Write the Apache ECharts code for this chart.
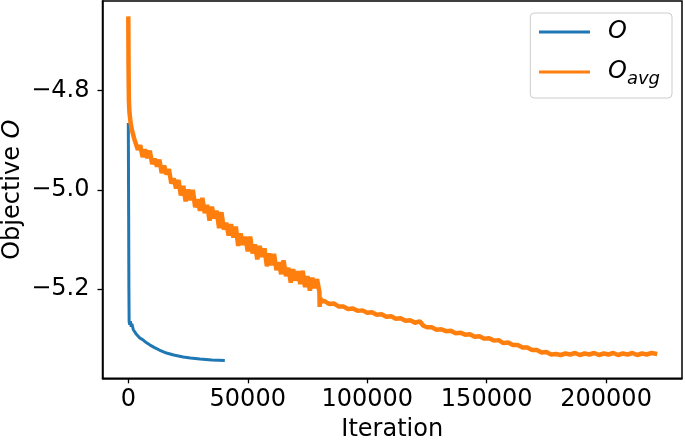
<!DOCTYPE html>
<html>
<head>
<meta charset="utf-8">
<script src="https://cdn.jsdelivr.net/npm/echarts@6/dist/echarts.min.js"></script>
<style>
  html, body { margin: 0; padding: 0; background: #fff; }
  #c1 { width: 685px; height: 440px; }
</style>
</head>
<body>
<div id="c1"></div>
<script>
// iterations in thousands
var objIterK = [0, 0.15, 0.25, 0.35, 0.6, 0.9, 1.2, 1.5, 2.1, 2.6, 3.2, 4, 4.9, 6, 7.5, 9.1, 11, 13, 16, 19, 23, 26, 30, 35, 40.4];
var objVal = [-4.865, -5.05, -5.20, -5.266, -5.272, -5.265, -5.276, -5.270, -5.282, -5.286, -5.290, -5.293, -5.299, -5.302, -5.308, -5.313, -5.318, -5.323, -5.329, -5.333, -5.337, -5.339, -5.341, -5.343, -5.344];

var avgIterK = [0, 0.1, 0.25, 0.5, 1, 1.5, 2, 2.5,
  3, 4, 5, 6, 7, 8, 9, 10, 11, 12, 13, 14, 15, 16, 17, 18, 19, 20,
  21, 22, 23, 24, 25, 26, 27, 28, 29, 30, 31, 32, 33, 34, 35, 36, 37, 38, 39, 40,
  41, 42, 43, 44, 45, 46, 47, 48, 49, 50, 51, 52, 53, 54, 55, 56, 57, 58, 59, 60,
  61, 62, 63, 64, 65, 66, 67, 68, 69, 70, 71, 72, 73, 74, 75, 76, 77, 78, 79, 80,
  80.1, 80.3, 81,
  82, 84, 86, 88, 90, 92, 94, 96, 98, 100, 102, 104, 106, 108, 110, 112, 114, 116, 118, 120, 122,
  123.5, 125, 127, 129, 131, 133, 135, 137, 139, 141, 143, 145, 147, 149, 151, 153, 155, 157, 159,
  161, 163, 165, 167, 169, 171, 173, 175, 177, 179, 181, 183, 185, 187, 189, 191, 193, 195, 197,
  199, 201, 203, 205, 207, 209, 211, 213, 215, 217, 219, 221.4];
var avgVal = [-4.650, -4.75, -4.82, -4.845, -4.866, -4.879, -4.888, -4.897,
  -4.896, -4.919, -4.910, -4.934, -4.918, -4.936, -4.921, -4.948, -4.937, -4.953, -4.939, -4.966, -4.951, -4.969, -4.958, -4.987, -4.977, -4.997,
  -4.980, -5.011, -4.992, -5.023, -4.999, -5.021, -5.000, -5.035, -5.019, -5.042, -5.016, -5.047, -5.030, -5.062, -5.034, -5.058, -5.042, -5.077, -5.045, -5.080,
  -5.066, -5.092, -5.069, -5.096, -5.074, -5.113, -5.088, -5.111, -5.094, -5.124, -5.094, -5.128, -5.110, -5.140, -5.113, -5.135, -5.118, -5.154, -5.128, -5.152,
  -5.129, -5.162, -5.146, -5.170, -5.142, -5.174, -5.157, -5.187, -5.160, -5.183, -5.164, -5.190, -5.163, -5.196, -5.174, -5.203, -5.177, -5.198, -5.180, -5.206,
  -5.236, -5.218, -5.225,
  -5.224, -5.230, -5.229, -5.235, -5.235, -5.240, -5.239, -5.244, -5.243, -5.248, -5.247, -5.252, -5.251, -5.256, -5.255, -5.260, -5.259, -5.264, -5.263, -5.268, -5.265,
  -5.274, -5.277, -5.277, -5.282, -5.281, -5.285, -5.284, -5.289, -5.288, -5.292, -5.291, -5.296, -5.295, -5.300, -5.299, -5.304, -5.303, -5.309, -5.308,
  -5.313, -5.313, -5.318, -5.318, -5.323, -5.323, -5.328, -5.327, -5.332, -5.331, -5.333, -5.330, -5.332, -5.329, -5.333, -5.330, -5.332, -5.329, -5.333,
  -5.330, -5.332, -5.329, -5.333, -5.330, -5.332, -5.329, -5.333, -5.330, -5.332, -5.329, -5.331];

var xTicks = [0, 50000, 100000, 150000, 200000];
var yTicks = [-5.2, -5.0, -4.8];

function pairs(xk, ys) {
  var out = [];
  for (var i = 0; i < xk.length; i++) out.push([xk[i] * 1000, ys[i]]);
  return out;
}

var font = 'DejaVu Sans';

var option = {
  animation: false,
  grid: {
    left: 102.5, right: 3, top: 1, bottom: 61.7,
    outerBoundsMode: 'none',
    containLabel: false,
    show: true, borderColor: '#000', borderWidth: 1.5, backgroundColor: '#fff'
  },
  legend: {
    right: 13, top: 13,
    orient: 'vertical',
    icon: 'rect',
    itemWidth: 51, itemHeight: 3,
    itemGap: 16,
    padding: [7, 12, 10, 8.7],
    borderColor: '#cccccc', borderWidth: 1, borderRadius: 4,
    backgroundColor: 'rgba(255,255,255,0.8)',
    data: ['O', 'O_avg'],
    formatter: function (name) {
      return name === 'O' ? '{i|O}' : '{i|O}{s|avg}';
    },
    textStyle: {
      color: '#000', fontFamily: font, fontSize: 24,
      padding: [0, 0, 0, 13],
      rich: {
        i: { fontStyle: 'italic', fontSize: 24, fontFamily: font, color: '#000' },
        s: { fontStyle: 'italic', fontSize: 18, fontFamily: font, color: '#000', padding: [14, 0, 0, 0] }
      }
    }
  },
  xAxis: {
    type: 'value',
    min: -10800, max: 231770,
    name: 'Iteration',
    nameLocation: 'middle',
    nameGap: 39,
    nameMoveOverlap: false,
    nameTextStyle: { fontFamily: font, fontSize: 24, color: '#000' },
    splitLine: { show: false },
    axisLine: { show: true, onZero: false, lineStyle: { color: '#000', width: 1.5 } },
    axisTick: { show: true, length: 5, customValues: xTicks, lineStyle: { color: '#000', width: 1.3 } },
    axisLabel: {
      customValues: xTicks, margin: 9,
      fontFamily: font, fontSize: 24, color: '#000',
      formatter: function (v) { return String(v); }
    }
  },
  yAxis: {
    type: 'value',
    min: -5.380, max: -4.619,
    name: 'Objective {i|O}',
    nameLocation: 'middle',
    nameGap: 78,
    nameMoveOverlap: false,
    nameTextStyle: {
      fontFamily: font, fontSize: 24, color: '#000',
      rich: { i: { fontStyle: 'italic', fontFamily: font, fontSize: 24, color: '#000' } }
    },
    splitLine: { show: false },
    axisLine: { show: true, onZero: false, lineStyle: { color: '#000', width: 1.5 } },
    axisTick: { show: true, length: 5, customValues: yTicks, lineStyle: { color: '#000', width: 1.3 } },
    axisLabel: {
      customValues: yTicks, margin: 13,
      fontFamily: font, fontSize: 24, color: '#000',
      formatter: function (v) { return v.toFixed(1).replace('-', '\u2212'); }
    }
  },
  series: [
    {
      name: 'O', type: 'line',
      data: pairs(objIterK, objVal),
      showSymbol: false,
      color: '#1f77b4',
      lineStyle: { width: 3, color: '#1f77b4' }
    },
    {
      name: 'O_avg', type: 'line',
      data: pairs(avgIterK, avgVal),
      showSymbol: false,
      color: '#ff7f0e',
      lineStyle: { width: 4.5, color: '#ff7f0e' }
    }
  ]
};

var myChart = echarts.init(document.getElementById('c1'));
myChart.setOption(option);
</script>
</body>
</html>
